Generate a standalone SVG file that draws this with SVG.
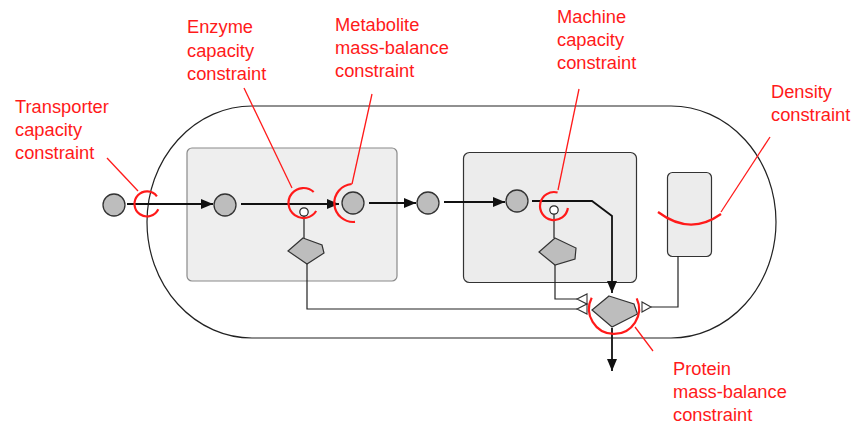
<svg xmlns="http://www.w3.org/2000/svg" width="852" height="425" viewBox="0 0 852 425">
<style>
.lbl{font-family:"Liberation Sans",Arial,Helvetica,sans-serif;font-size:18.3px;fill:#ff1a1a}
.met{fill:#bdbdbd;stroke:#333;stroke-width:1.3}
.enz{fill:#bdbdbd;stroke:#333;stroke-width:1.2}
.flow{fill:none;stroke:#111;stroke-width:1.8}
.link{fill:none;stroke:#222;stroke-width:1.2}
.arc{fill:none;stroke:#ff1a1a;stroke-width:2.2}
.lead{fill:none;stroke:#ff1a1a;stroke-width:1.3}
.open{fill:#fff;stroke:#333;stroke-width:1.1}
</style>
<defs>
<marker id="ah" viewBox="0 0 12 10" refX="12" refY="5" markerWidth="12" markerHeight="10" markerUnits="userSpaceOnUse" orient="auto">
<path d="M0,0 L12,5 L0,10 Z" fill="#111"/>
</marker>
</defs>
<rect width="852" height="425" fill="#fff"/>
<g id="cell"><rect x="147" y="106" width="629" height="232" rx="105" ry="116" fill="none" stroke="#222" stroke-width="1.2"/></g>
<g id="compartment1"><rect x="187" y="148" width="210" height="133" rx="5" fill="#eeeeee" stroke="#8a8a8a" stroke-width="1.2"/></g>
<g id="compartment2"><rect x="463.5" y="152.5" width="173" height="130" rx="6" fill="#ececec" stroke="#333" stroke-width="1.2"/></g>
<g id="density-box"><rect x="667.5" y="172.5" width="44" height="84" rx="5" fill="#ececec" stroke="#333" stroke-width="1.2"/></g>
<g id="connectors">
<path class="flow" d="M127,204 H213" marker-end="url(#ah)"/>
<path class="flow" d="M241,204 H339" marker-end="url(#ah)"/>
<path class="flow" d="M369,203 H416" marker-end="url(#ah)"/>
<path class="flow" d="M444,202 H505" marker-end="url(#ah)"/>
<path class="flow" d="M532,201 H592 L612,216 V293" marker-end="url(#ah)"/>
<path class="flow" d="M612,328 V371" marker-end="url(#ah)"/>
<path class="link" d="M304,216 V238"/>
<path class="link" d="M554,214 V238"/>
<path class="link" d="M307,264 V309 H577"/>
<path class="link" d="M555,265 V299 H577"/>
<path class="link" d="M678,256 V307 H651"/>
<polygon class="open" points="577,299 587,294 587,304"/>
<polygon class="open" points="577,309 587,304 587,314"/>
<polygon class="open" points="651,307 642,302 642,312"/>
</g>
<g id="m-ext"><circle class="met" cx="114" cy="205" r="11"/></g>
<g id="m1"><circle class="met" cx="225" cy="205" r="11"/></g>
<g id="m2"><circle class="met" cx="353" cy="203" r="11"/></g>
<g id="m3"><circle class="met" cx="428" cy="203" r="11"/></g>
<g id="m4"><circle class="met" cx="517" cy="201" r="11"/></g>
<g id="enzyme"><polygon class="enz" points="303,238 322,245 324,253 307,264 288,251"/><circle cx="304" cy="212" r="4.2" fill="#fff" stroke="#222" stroke-width="1.2"/></g>
<g id="machine"><polygon class="enz" points="555,238 576,248 575,259 555,265 539,252"/><circle cx="554" cy="210" r="4.2" fill="#fff" stroke="#222" stroke-width="1.2"/></g>
<g id="protein"><polygon class="enz" points="609,296 634,304 637.5,314 612,327 592,310"/></g>
<g id="constraints">
<path class="arc" d="M158.3,209.3 A12.5,12.5 0 1 1 156.9,196.3"/>
<path class="arc" d="M316.2,211 A15,15 0 1 1 313.7,192"/>
<path class="arc" d="M355,221.9 A19,19 0 1 1 351.7,184"/>
<path class="arc" d="M567.9,208 A14,14 0 1 1 557.6,192.5"/>
<path class="arc" d="M636.7,298.4 A25,25 0 1 1 591.7,297.7"/>
<path class="arc" d="M658,212 Q690,236 721,214"/>
<path class="lead" d="M107,158 L138,191"/>
<path class="lead" d="M244,88 L292,188"/>
<path class="lead" d="M372,94 L352,184"/>
<path class="lead" d="M579,89 L558,190"/>
<path class="lead" d="M770,137 L721,212"/>
<path class="lead" d="M635,327 L653,351"/>
</g>
<g id="label-transporter"><text class="lbl" x="15" y="113">Transporter</text><text class="lbl" x="15" y="136">capacity</text><text class="lbl" x="15" y="159">constraint</text></g>
<g id="label-enzyme"><text class="lbl" x="187" y="33">Enzyme</text><text class="lbl" x="187" y="57">capacity</text><text class="lbl" x="187" y="80">constraint</text></g>
<g id="label-metabolite"><text class="lbl" x="335" y="31">Metabolite</text><text class="lbl" x="335" y="54">mass-balance</text><text class="lbl" x="335" y="77">constraint</text></g>
<g id="label-machine"><text class="lbl" x="557" y="23">Machine</text><text class="lbl" x="557" y="46">capacity</text><text class="lbl" x="557" y="69">constraint</text></g>
<g id="label-density"><text class="lbl" x="771" y="98">Density</text><text class="lbl" x="771" y="121">constraint</text></g>
<g id="label-protein"><text class="lbl" x="673" y="375">Protein</text><text class="lbl" x="673" y="398">mass-balance</text><text class="lbl" x="673" y="421">constraint</text></g>
</svg>
